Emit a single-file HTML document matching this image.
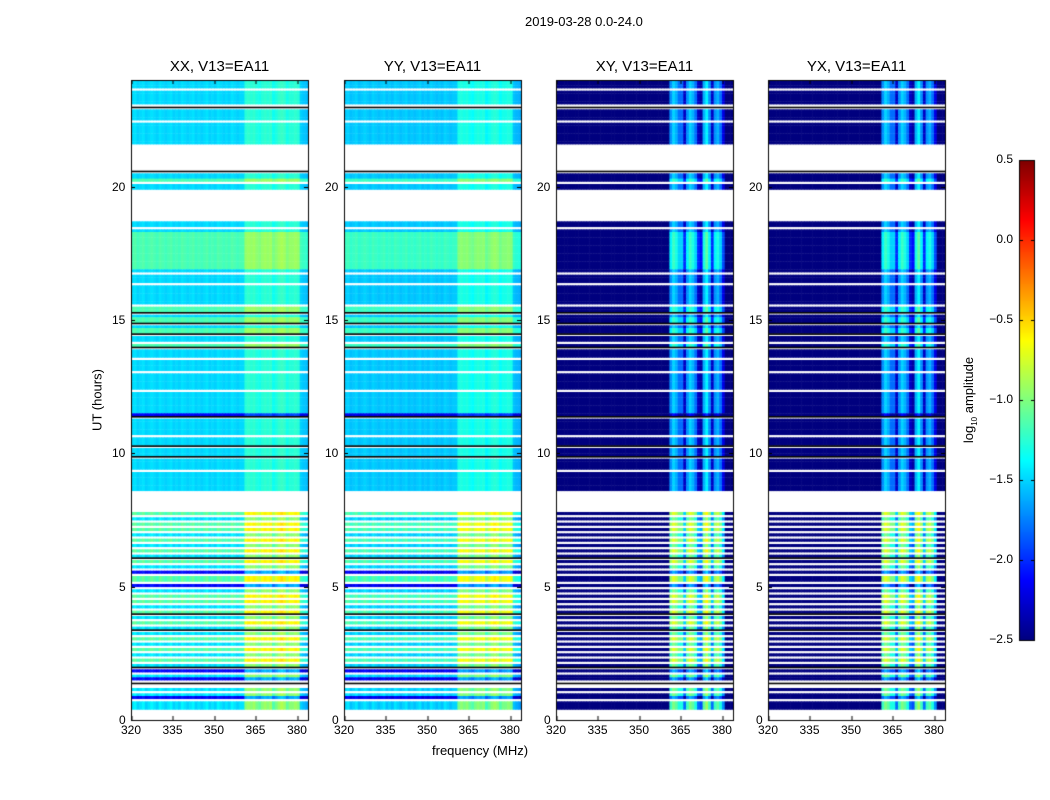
<!DOCTYPE html>
<html><head><meta charset="utf-8">
<style>
body{margin:0;background:#fff;font-family:"Liberation Sans",sans-serif;}
#wrap{position:relative;width:1050px;height:800px;overflow:hidden;}
canvas{position:absolute;left:0;top:0;}
.t{position:absolute;font-size:12px;color:#000;white-space:nowrap;}
.cbl{position:absolute;font-size:12px;color:#000;white-space:nowrap;width:40px;text-align:right;}
.title{position:absolute;font-size:15px;white-space:nowrap;transform:translateX(-50%);}
</style></head><body>
<div id="wrap">
<canvas id="cv" width="1050" height="800"></canvas>
<div class="t" style="left:525px;top:14px;font-size:13px">2019-03-28 0.0-24.0</div>
<div class="t" style="left:432px;top:743px;font-size:13px">frequency (MHz)</div>
<div class="t" style="left:97px;top:400px;font-size:13px;transform:translate(-50%,-50%) rotate(-90deg)">UT (hours)</div>
<div class="t" style="left:970px;top:400px;font-size:13px;transform:translate(-50%,-50%) rotate(-90deg)">log<sub style="font-size:8px">10</sub> amplitude</div>
<div id="labels"></div>
</div>
<script>
// ---- data ----
const panelTitles = ["XX, V13=EA11","YY, V13=EA11","XY, V13=EA11","YX, V13=EA11"];
const freqTicks = [320,335,350,365,380];
const timeTicks = [0,5,10,15,20];
const cbTicks = [0.5,0.0,-0.5,-1.0,-1.5,-2.0,-2.5];
const cbTickLabels = ["0.5","0.0","\u22120.5","\u22121.0","\u22121.5","\u22122.0","\u22122.5"];
// row codes (0.1 h each, from 24h down): digit = level, w = flagged (white), k = black line
const parRuns = [["3",3],["w",1],["3",5],["w",1],["k",1],["3",4],["w",1],["3",8],
 ["w",10],["k",1],["3",2],["4",1],["w",1],["3",2],["w",12],["3",2],["w",1],["3",1],
 ["4",14],["3",1],["w",1],["3",3],["w",1],["3",7],["w",1],
 ["4",2],["k",1],["3",1],["4",2],["k",1],["3",1],["4",2],["k",1],["3",2],["w",1],["4",1],["k",1],["3",1],
 ["3",2],["w",1],["3",4],["w",1],["3",6],["w",1],["3",8],["1",1],["k",1],["3",6],["w",1],["3",3],["k",1],["3",3],["k",1],["3",4],["w",1],["3",7],
 ["w",8],
 ["4",1],["w",1],["3",1],["w",1],["4",1],["w",1],["4",1],["w",1],["3",1],["w",1],["4",1],["w",1],["3",1],["w",1],["4",1],["w",1],["3",1],["k",1],
 ["4",1],["w",1],["3",1],["w",1],["1",1],["w",1],["4",1],["4",1],["w",1],["1",1],["w",1],["3",1],["w",1],["4",1],["w",1],["4",1],["w",1],["3",1],["w",1],
 ["4",1],["k",1],["3",1],["w",1],["4",1],["w",1],["3",1],["k",1],["3",1],["w",1],["4",1],["w",1],["3",1],["w",1],["4",1],["w",1],["3",1],["w",1],["4",1],["w",1],
 ["3",1],["k",1],["1",1],["w",1],["3",1],["1",1],["w",1],["k",1],["w",1],["3",1],["w",1],["3",1],["1",1],["w",1],["3",1],["3",2]];
const bandGain = [[0,81,1.2],[81,240,0.55]]; // [rowFromBottom start, end, gain]
const crossBoost = [[0,81,0.5],[81,240,0.0]];
// per-channel offset (1 MHz channels, 320..383)
const parChannel = [0.05,0.1,0.0,0.05,0.1,0.0,0.05,0.1,0.05,0.0,0.1,0.05,0.0,0.05,0.1,0.0,0.05,0.0,0.1,0.05,
 0.0,0.05,0.1,0.0,0.05,0.0,0.05,0.1,0.0,0.05,0.0,0.1,0.05,0.0,0.05,0.0,0.1,0.05,0.0,0.05,0.05,
 0.45,0.5,0.45,0.5,0.4,0.35,0.45,0.5,0.45,0.5,0.3,0.4,0.5,0.55,0.5,0.35,0.45,0.45,0.5,0.45,0.0,-0.05,-0.1];
const crossChannel = [null,null,null,null,null,null,null,null,null,null,null,null,null,null,null,null,null,null,null,null,
 null,null,null,null,null,null,null,null,null,null,null,null,null,null,null,null,null,null,null,null,null,
 -1.7,-1.5,-1.6,-1.8,-1.8,-2.3,-1.7,-1.5,-1.6,-1.8,-2.3,-2.4,-1.6,-1.4,-1.7,-2.3,-1.7,-1.6,-1.8,-2.2,null,null,null];
// ---- drawing ----
const panelX = [131,344,556,768], PW=177, PT=80, PB=720;
function xScale(px0,f){return px0 + (f-320)/64*PW;}
function yScale(t){return PB - t/24*(PB-PT);}
function jet(v){
  let x=(v+2.5)/3; x=Math.max(0,Math.min(1,x));
  const r=Math.max(0,Math.min(1,1.5-Math.abs(4*x-3)));
  const g=Math.max(0,Math.min(1,1.5-Math.abs(4*x-2)));
  const b=Math.max(0,Math.min(1,1.5-Math.abs(4*x-1)));
  return `rgb(${r*255|0},${g*255|0},${b*255|0})`;
}
const rows=[]; parRuns.forEach(([c,n])=>{for(let i=0;i<n;i++)rows.push(c);});
const cv=document.getElementById('cv'), ctx=cv.getContext('2d');
function levelOf(c){return -2.5+parseInt(c)*0.33;}
for(let p=0;p<4;p++){
  const x0=panelX[p];
  for(let r=0;r<rows.length;r++){
    const c=rows[r]; const tTop=24-r*0.1, tBot=tTop-0.1;
    const y0=yScale(tTop), y1=yScale(tBot);
    if(c==='w') continue;
    const fromBottom=rows.length-1-r;
    const gain=bandGain.find(g=>fromBottom>=g[0]&&fromBottom<g[1])[2];
    const cboost=crossBoost.find(g=>fromBottom>=g[0]&&fromBottom<g[1])[2];
    if(c==='k'){ctx.fillStyle='#000';ctx.fillRect(x0,y0,PW,Math.max(1.2,(y1-y0)*0.6));continue;}
    for(let ch=0;ch<64;ch++){
      const xa=xScale(x0,320+ch), xb=xScale(x0,321+ch);
      let v;
      if(p<2){ v=levelOf(c)+parChannel[ch]*gain + (p===1?-0.05:0); }
      else {
        const cb=crossChannel[ch];
        if(cb===null) v=-3;
        else v=cb+cboost+(parseInt(c)-3)*0.3;
      }
      ctx.fillStyle=jet(v);
      ctx.fillRect(xa,y0,xb-xa+0.6,y1-y0+0.4);
    }
  }
  ctx.strokeStyle='#000';ctx.lineWidth=1;
  ctx.strokeRect(x0+0.5,PT+0.5,PW,PB-PT);
  ctx.fillStyle='#000';
  freqTicks.forEach(f=>{const x=Math.round(xScale(x0,f))+0.5;ctx.fillRect(x,PB-4,1,4);ctx.fillRect(x,PT,1,4);});
  timeTicks.forEach(t=>{const y=Math.round(yScale(t));ctx.fillRect(x0,y,4,1);ctx.fillRect(x0+PW-4,y,4,1);});
}
// colorbar
const CBX=1019,CBW=15,CBT=160,CBB=640;
for(let y=CBT;y<CBB;y++){const v=0.5-(y-CBT)/(CBB-CBT)*3;ctx.fillStyle=jet(v);ctx.fillRect(CBX,y,CBW,1);}
ctx.strokeStyle='#000';ctx.strokeRect(CBX+0.5,CBT+0.5,CBW,CBB-CBT);
const lab=document.getElementById('labels');
function addLabel(txt,x,y,cls,name){const d=document.createElement('div');d.className=cls;d.textContent=txt;d.style.left=x+'px';d.style.top=y+'px';


lab.appendChild(d);return d;}
panelTitles.forEach((t,p)=>{addLabel(t,panelX[p]+PW/2,58,'title','panel-title');
  freqTicks.forEach(f=>{addLabel(String(f),xScale(panelX[p],f)-10,723,'t','x-tick-label');});
  timeTicks.forEach(t=>{const s=String(t);addLabel(s,panelX[p]-5-s.length*7,yScale(t)-7,'t','y-tick-label');});
});
cbTicks.forEach((v,i)=>{const y=CBT+(0.5-v)/3*(CBB-CBT);ctx.fillStyle='#000';ctx.fillRect(CBX,Math.round(y),4,1);ctx.fillRect(CBX+CBW-3,Math.round(y),4,1);
  addLabel(cbTickLabels[i],973,y-8,'cbl','colorbar-tick-label');});
</script>
</body></html>
